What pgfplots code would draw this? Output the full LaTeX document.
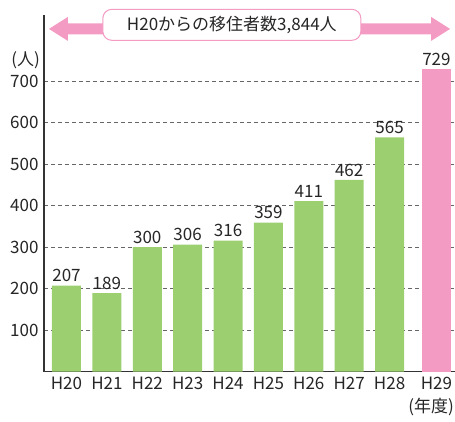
\documentclass[border=0pt]{standalone}
\usepackage{pgfplots}
\pgfplotsset{compat=1.18}
\usetikzlibrary{calc}
\usepackage{fontspec}
\setmainfont{Noto Sans CJK JP}
\definecolor{bargreen}{RGB}{155,207,112}
\definecolor{barpink}{RGB}{243,155,195}
\begin{document}
\begin{tikzpicture}
\begin{axis}[
  scale only axis,
  width=411pt, height=356.5pt,
  xmin=-0.557, xmax=9.62,
  ymin=0, ymax=860,
  axis x line=bottom, axis y line=left,
  axis line style={line width=1.2pt, black!80, -},
  xtick={0,1,2,3,4,5,6,7,8,9.16},
  xticklabels={H20,H21,H22,H23,H24,H25,H26,H27,H28,H29},
  ytick={100,200,300,400,500,600,700},
  major tick length=0pt,
  ymajorgrids,
  grid style={black!60, line width=0.8pt, dash pattern=on 4pt off 3pt},
  tick label style={font=\fontsize{17}{20}\selectfont, black!85},
  /pgf/number format/assume math mode=true,
  xticklabel style={yshift=-2pt},
  yticklabel style={xshift=-2pt},
  clip=false,
  nodes near coords,
  every node near coord/.append style={font=\fontsize{17}{20}\selectfont, black!85},
  axis on top=false,
]
\addplot[ybar, bar shift=0pt, bar width=29pt, fill=bargreen, draw=none]
  coordinates {(0,207) (1,189) (2,300) (3,306) (4,316) (5,359) (6,411) (7,462) (8,565)};
\addplot[ybar, bar shift=0pt, bar width=29pt, fill=barpink, draw=none]
  coordinates {(9.16,729)};
\coordinate (O) at (rel axis cs:0,0);
\coordinate (L) at (rel axis cs:0.012,0.961);
\coordinate (R) at (rel axis cs:0.988,0.961);
\coordinate (B) at (rel axis cs:0.457,0.9725);
\coordinate (P) at (rel axis cs:0,0.874);
\coordinate (Q) at (rel axis cs:1,0);
\end{axis}
\fill[barpink] (L) -- ++(19pt,12pt) -- ++(0,-6.5pt) -- ($(R)+(-19pt,5.5pt)$) -- ++(0,6.5pt) -- (R) -- ++(-19pt,-12pt) -- ++(0,6.5pt) -- ($(L)+(19pt,-5.5pt)$) -- ++(0,-6.5pt) -- cycle;
\node[draw=barpink, line width=1pt, fill=white, rounded corners=9pt, minimum width=258pt, minimum height=31pt, inner sep=0pt, font=\fontsize{17}{20}\selectfont, text=black!85] at (B) {H20からの移住者数3,844人};
\node[anchor=east, font=\fontsize{17}{20}\selectfont, text=black!85, inner sep=0pt] at ($(P)+(-4pt,0)$) {(人)};
\node[anchor=east, font=\fontsize{17}{20}\selectfont, text=black!85, inner sep=0pt] at ($(Q)+(-1pt,-35pt)$) {(年度)};
\pgfresetboundingbox
\path ($(O)+(-44pt,-49.5pt)$) rectangle ($(O)+(411pt,371.5pt)$);
\end{tikzpicture}
\end{document}
